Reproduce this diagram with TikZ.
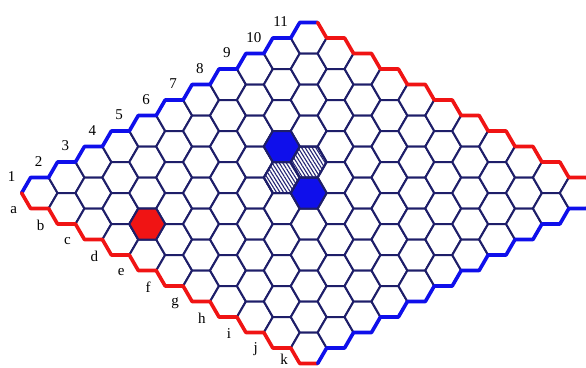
\documentclass[tikz,border=0pt]{standalone}
\usepackage{fontspec}
\setmainfont{Liberation Serif}
\usetikzlibrary{patterns.meta}
\definecolor{gridc}{RGB}{30,30,105}
\definecolor{hexblue}{RGB}{15,15,235}
\definecolor{hexred}{RGB}{240,20,20}
\definecolor{hatchc}{RGB}{35,35,115}
\tikzset{
  cellbox/.style={draw=gridc,line width=2pt,fill=white,line join=round},
  bluestone/.style={draw=gridc,line width=2pt,fill=hexblue,line join=round},
  redstone/.style={draw=gridc,line width=2pt,fill=hexred,line join=round},
  hatchcell/.style={draw=gridc,line width=2pt,line join=round,
     pattern={Lines[angle=-58,distance=3pt,line width=1.1pt]},pattern color=hatchc},
  blueedge/.style={draw=hexblue,line width=3.6pt,line join=round,line cap=round},
  rededge/.style={draw=hexred,line width=3.6pt,line join=round,line cap=round},
  lbl/.style={font=\fontsize{15}{17}\selectfont,inner sep=0pt}
}
\newcommand\hexS{17.94}
\newcommand\hexH{15.5}
\newcommand\hexD{26.91}
% draw hexagon of cell (r,c) with style
\newcommand\hexcell[3]{%
  \pgfmathsetmacro\hx{39.6+\hexD*(#1+#2)}%
  \pgfmathsetmacro\hy{193+\hexH*(#1-#2)}%
  \path[#3] ({\hx-\hexS},\hy) -- ++({\hexS/2},-\hexH) -- ++(\hexS,0) -- ++({\hexS/2},\hexH)
     -- ++({-\hexS/2},\hexH) -- ++(-\hexS,0) -- cycle;}
\begin{document}
\begin{tikzpicture}[x=1pt,y=-1pt]
\useasboundingbox (0,0) rectangle (586,367);
\clip (0,0) rectangle (586,367);
\fill[white] (0,0) rectangle (586,367);
% grid
\foreach \r in {0,...,10}{\foreach \c in {0,...,10}{\hexcell{\r}{\c}{cellbox}}}
% stones
\hexcell{3}{1}{redstone}
\hexcell{3}{6}{bluestone}
\hexcell{5}{5}{bluestone}
\hexcell{4}{5}{hatchcell}
\hexcell{4}{6}{hatchcell}
% borders: top-left (blue), cells (0,c)
\foreach \c in {0,...,10}{
  \pgfmathsetmacro\hx{39.6+\hexD*\c}
  \pgfmathsetmacro\hy{193-\hexH*\c}
  \draw[blueedge] ({\hx-\hexS},\hy) -- ++({\hexS/2},-\hexH) -- ++(\hexS,0);
}
% top-right (red), cells (r,10)
\foreach \r in {0,...,10}{
  \pgfmathsetmacro\hx{39.6+\hexD*(\r+10)}
  \pgfmathsetmacro\hy{193+\hexH*(\r-10)}
  \ifnum\r=0
    \draw[rededge] ({\hx+\hexS/2},{\hy-\hexH}) -- ++({\hexS/2},\hexH);
  \else
    \draw[rededge] ({\hx-\hexS/2},{\hy-\hexH}) -- ++(\hexS,0) -- ++({\hexS/2},\hexH);
  \fi
}
% bottom-left (red), cells (r,0)
\foreach \r in {0,...,10}{
  \pgfmathsetmacro\hx{39.6+\hexD*\r}
  \pgfmathsetmacro\hy{193+\hexH*\r}
  \draw[rededge] ({\hx-\hexS},\hy) -- ++({\hexS/2},\hexH) -- ++(\hexS,0);
}
% bottom-right (blue), cells (10,c)
\foreach \c in {0,...,10}{
  \pgfmathsetmacro\hx{39.6+\hexD*(10+\c)}
  \pgfmathsetmacro\hy{193+\hexH*(10-\c)}
  \ifnum\c=0
    \draw[blueedge] ({\hx+\hexS/2},{\hy+\hexH}) -- ++({\hexS/2},-\hexH);
  \else
    \draw[blueedge] ({\hx-\hexS/2},{\hy+\hexH}) -- ++(\hexS,0) -- ++({\hexS/2},-\hexH);
  \fi
}
% labels
\foreach \n [count=\c from 0] in {1,2,3,4,5,6,7,8,9,10,11}{
  \pgfmathsetmacro\hx{39.6+\hexD*\c-28}
  \pgfmathsetmacro\hy{193-\hexH*\c-16}
  \node[lbl] (num\n) at (\hx,\hy) {\n};
}
\foreach \l [count=\r from 0] in {a,b,c,d,e,f,g,h,i,j}{
  \pgfmathsetmacro\hx{39.6+\hexD*\r-26}
  \pgfmathsetmacro\hy{193+\hexH*\r+17}
  \node[lbl] (let\l) at (\hx,\hy) {\l};
}
\node[lbl] (letk) at (284,359) {k};
\end{tikzpicture}
\end{document}
